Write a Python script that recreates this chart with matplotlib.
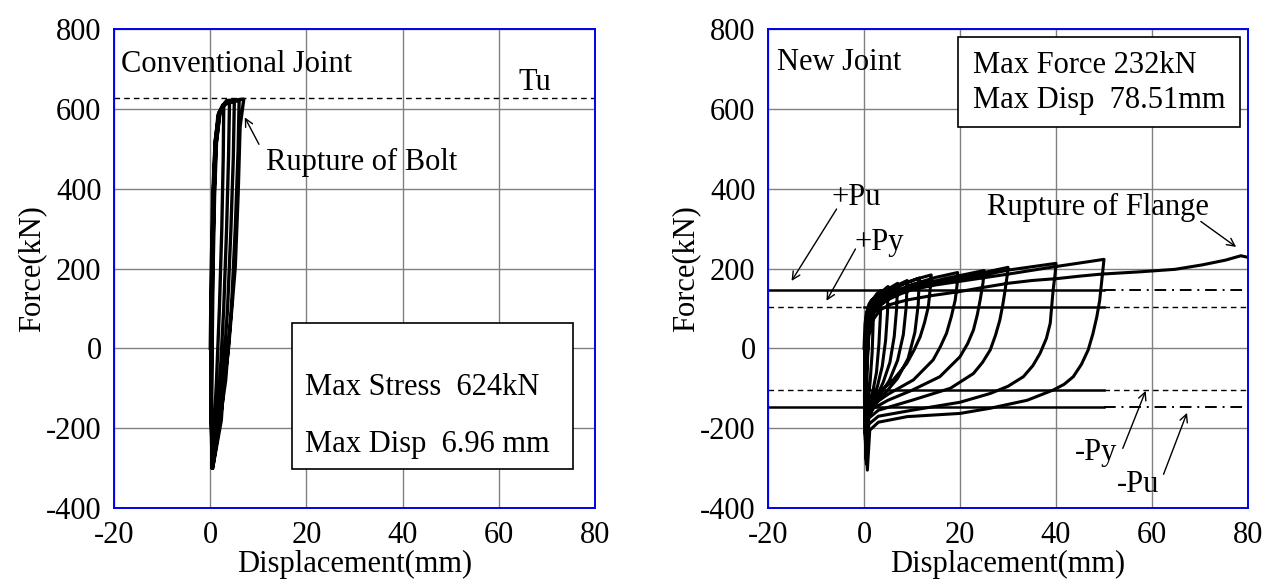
import matplotlib
matplotlib.use('Agg')
import matplotlib.pyplot as plt
from matplotlib.patches import Rectangle

plt.rcParams['font.family'] = ['Liberation Serif', 'DejaVu Serif']
plt.rcParams['font.size'] = 22
plt.rcParams['axes.unicode_minus'] = False

# Conventional joint: displacement (mm) / force (kN), full recorded path
conv_disp = [0.0, 0.2, 0.5, 1.0, 1.8, 2.8,
             2.7, 2.4, 1.9, 1.3, 0.8, 0.4,
             0.1, 0.1, 0.3, 0.6, 1.0, 1.6, 2.6, 4.0,
             3.8, 3.4, 2.8, 2.0, 1.2, 0.4,
             0.2, 0.2, 0.4, 0.7, 1.1, 1.8, 3.0, 5.0,
             4.8, 4.3, 3.6, 2.6, 1.5, 0.4,
             0.2, 0.3, 0.5, 0.8, 1.2, 2.0, 3.4, 6.0,
             5.8, 5.2, 4.4, 3.2, 1.8, 0.5,
             0.3, 0.4, 0.6, 0.9, 1.3, 2.1, 3.4, 5.0, 6.5, 6.96,
             6.2, 5.8, 5.2, 3.8, 2.7, 2.3, 0.5]
conv_force = [0, 200, 380, 520, 590, 605,
              480, 300, 100, -80, -200, -300,
              -150, 0, 200, 380, 510, 585, 610, 615,
              480, 300, 100, -80, -200, -300,
              -150, 0, 200, 380, 510, 590, 615, 618,
              480, 300, 100, -80, -200, -300,
              -150, 0, 200, 380, 510, 592, 617, 620,
              500, 300, 100, -80, -200, -300,
              -150, 0, 200, 380, 515, 597, 621, 622, 624, 624,
              555, 388, 204, 0, -104, -180, -300]

# New joint: displacement (mm) / force (kN), full recorded path
new_disp = [0.0, 0.2, 0.5, 1.0,
            0.9, 0.7, 0.5, 0.3, 0.2,
            0.1, 0.2, 0.5, 1.0, 1.5, 2.0,
            1.9, 1.7, 1.3, 0.9, 0.5, 0.3,
            0.1, 0.2, 0.4, 0.9, 1.8, 2.7, 3.5,
            3.4, 3.1, 2.6, 1.8, 1.0, 0.5, 0.3,
            0.1, 0.2, 0.4, 1.0, 2.0, 3.5, 5.0,
            4.9, 4.5, 3.8, 2.8, 1.6, 0.8, 0.3,
            0.1, 0.2, 0.5, 1.2, 2.5, 4.5, 7.0,
            6.8, 6.3, 5.4, 4.0, 2.5, 1.2, 0.5, 0.4,
            0.2, 0.3, 0.6, 1.4, 3.0, 5.5, 9.0,
            8.8, 8.2, 7.0, 5.3, 3.2, 1.6, 0.6, 0.4,
            0.2, 0.3, 0.7, 1.6, 3.5, 7.0, 11.5,
            11.3, 10.6, 9.2, 7.0, 4.2, 2.0, 0.8, 0.4,
            0.2, 0.3, 0.7, 1.2, 1.8, 2.8, 4.0, 6.0, 8.0, 11.0, 14.0,
            13.8, 13.4, 12.6, 11.7, 10.4, 8.9, 6.1, 3.0, 1.2, 0.5, 0.4,
            0.2, 0.3, 0.7, 1.3, 2.0, 3.2, 5.0, 7.5, 10.0, 15.0, 19.5,
            19.4, 19.0, 18.2, 17.2, 15.9, 14.4, 10.3, 5.0, 2.0, 0.7, 0.4,
            0.2, 0.3, 0.8, 1.3, 2.0, 3.2, 5.0, 7.5, 10.0, 17.0, 25.0,
            24.8, 24.2, 23.6, 22.8, 21.6, 20.0, 15.8, 10.0, 5.0, 2.0, 0.8, 0.5,
            0.2, 0.3, 0.8, 1.3, 2.0, 3.2, 5.0, 7.5, 10.0, 15.0, 20.0, 25.0, 30.0,
            29.8, 29.4, 28.9, 28.3, 27.4, 26.3, 24.7, 22.8, 18.0, 10.0, 3.0, 1.0, 0.5,
            0.2, 0.3, 0.8, 1.3, 2.0, 3.2, 5.0, 7.5, 10.0, 15.0, 20.0, 30.0, 40.0,
            39.8, 39.4, 39.1, 38.8, 38.0, 36.7, 35.2, 33.2, 30.0, 26.3, 20.0, 10.0, 3.0, 1.0, 0.5,
            0.3, 0.4, 0.9, 1.4, 2.0, 3.2, 5.0, 7.5, 10.0, 15.0, 20.0, 30.0, 40.0, 50.0,
            49.8, 49.5, 49.1, 48.5, 47.7, 46.7, 45.3, 43.6, 41.7, 39.5, 34.0, 26.3, 20.0,
            9.0, 3.0, 1.2, 0.7,
            0.4, 0.5, 1.0, 1.8, 3.3, 5.5, 8.9, 14.0, 19.8, 25.0, 30.0, 35.0,
            40.4, 45.0, 49.4, 57.8, 64.8, 70.4, 75.3, 78.51, 80.0]
new_force = [0, 60, 90, 105,
             40, -50, -120, -170, -200,
             -120, 0, 80, 110, 120, 125,
             60, -10, -80, -130, -170, -210,
             -120, -20, 60, 100, 122, 137, 145,
             80, 10, -60, -110, -150, -185, -230,
             -130, -20, 55, 95, 118, 140, 155,
             90, 20, -45, -95, -135, -165, -240,
             -140, -30, 55, 95, 122, 145, 163,
             100, 30, -35, -85, -125, -155, -190, -250,
             -150, -40, 50, 95, 125, 150, 170,
             105, 35, -30, -80, -120, -150, -185, -260,
             -150, -40, 50, 95, 128, 157, 176,
             110, 40, -25, -75, -115, -145, -175, -265,
             -150, -40, 50, 80, 100, 117, 130, 146, 160, 174, 184,
             150, 104, 64, 29, -5, -38, -79, -112, -145, -180, -270,
             -160, -40, 45, 78, 100, 118, 135, 148, 160, 178, 190,
             160, 121, 80, 38, 4, -29, -79, -115, -140, -165, -275,
             -160, -40, 45, 75, 95, 113, 130, 143, 155, 175, 195,
             165, 121, 84, 46, 12, -21, -71, -105, -130, -150, -172, -280,
             -165, -40, 40, 70, 92, 110, 128, 142, 153, 167, 178, 190, 203,
             180, 146, 108, 71, 33, -4, -35, -63, -100, -130, -155, -175, -285,
             -170, -40, 40, 68, 90, 108, 125, 139, 150, 162, 172, 196, 213,
             185, 146, 105, 63, 25, -12, -43, -71, -95, -113, -135, -155, -170, -190, -290,
             -175, -40, 40, 66, 88, 106, 122, 136, 147, 159, 168, 186, 205, 223,
             200, 163, 120, 79, 37, -4, -40, -71, -90, -104, -130, -150, -163,
             -171, -185, -205, -305,
             -200, -60, 30, 70, 96, 110, 121, 132, 142, 153, 163, 170,
             175, 181, 186, 192, 198, 209, 221, 232, 228]

tu_force = 628
pu_force = 147
py_force = 104

x_ticks = [-20, 0, 20, 40, 60, 80]
y_ticks = [-400, -200, 0, 200, 400, 600, 800]

fig = plt.figure(figsize=(12.8, 5.83), dpi=100)
ax1 = fig.add_axes([0.0891, 0.1286, 0.3758, 0.8216])
ax2 = fig.add_axes([0.6000, 0.1286, 0.3750, 0.8216])

for ax in (ax1, ax2):
    ax.set_xlim(-20, 80)
    ax.set_ylim(-400, 800)
    ax.set_xticks(x_ticks)
    ax.set_yticks(y_ticks)
    ax.grid(True, color='#808080', lw=1.0)
    ax.set_axisbelow(True)
    ax.tick_params(length=0, pad=9)
    for s in ax.spines.values():
        s.set_color('#0000ee')
        s.set_linewidth(1.4)
    ax.set_xlabel('Displacement(mm)', labelpad=0)
    ax.set_ylabel('Force(kN)', labelpad=0)

arrow = dict(arrowstyle='->', color='black', lw=1.0, mutation_scale=14)

# left: conventional joint
ax1.plot(conv_disp, conv_force, color='black', lw=2.4, solid_joinstyle='round')
ax1.axhline(tu_force, color='black', lw=1.0, ls=(0, (4, 3)))
ax1.text(-18.5, 693, 'Conventional Joint', va='baseline')
ax1.text(64, 647, 'Tu', va='baseline')
ax1.text(11.5, 448, 'Rupture of Bolt', va='baseline')
ax1.annotate('', xy=(6.9, 585), xytext=(10.4, 505), arrowprops=arrow)
ax1.add_patch(Rectangle((0.370, 0.0814), 0.584, 0.305, transform=ax1.transAxes,
                        fc='white', ec='black', lw=1.2, zorder=3))
ax1.text(19.8, -118, 'Max Stress  624kN', va='baseline', zorder=4)
ax1.text(19.8, -259, 'Max Disp  6.96 mm', va='baseline', zorder=4)

# right: new joint
for f in (py_force, -py_force):
    ax2.plot([-20, 0], [f, f], color='black', lw=1.0, ls=(0, (4, 3)))
    ax2.plot([0, 50], [f, f], color='black', lw=1.8)
    ax2.plot([50, 80], [f, f], color='black', lw=1.0, ls=(0, (4, 3)))
for f in (pu_force, -pu_force):
    ax2.plot([-20, 50], [f, f], color='black', lw=1.8)
    ax2.plot([50, 80], [f, f], color='black', lw=1.4, ls=(0, (6, 3, 1, 3)))
ax2.plot(new_disp, new_force, color='black', lw=2.2, solid_joinstyle='round')

ax2.text(-18.1, 698, 'New Joint', va='baseline')
ax2.add_patch(Rectangle((0.396, 0.795), 0.587, 0.189, transform=ax2.transAxes,
                        fc='white', ec='black', lw=1.2, zorder=3))
ax2.text(22.7, 689, 'Max Force 232kN', va='baseline', zorder=4)
ax2.text(22.7, 601, 'Max Disp  78.51mm', va='baseline', zorder=4)

ax2.text(-6.7, 359, '+Pu', va='baseline')
ax2.annotate('', xy=(-15.4, 163), xytext=(-5.4, 355), arrowprops=arrow)
ax2.text(-1.9, 247, '+Py', va='baseline')
ax2.annotate('', xy=(-8.1, 113), xytext=(-1.5, 255), arrowprops=arrow)
ax2.text(44, -280, '-Py', va='baseline')
ax2.annotate('', xy=(58.9, -100), xytext=(53.7, -257), arrowprops=arrow)
ax2.text(52.6, -359, '-Pu', va='baseline')
ax2.annotate('', xy=(67.5, -155), xytext=(62.2, -322), arrowprops=arrow)
ax2.text(25.6, 334, 'Rupture of Flange', va='baseline')
ax2.annotate('', xy=(78, 250), xytext=(69.7, 322), arrowprops=arrow)

fig.savefig('out.png', dpi=100)
